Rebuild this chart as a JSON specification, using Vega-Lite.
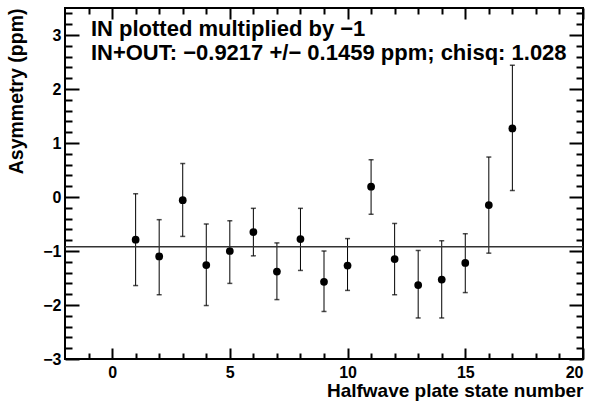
{
  "$schema": "https://vega.github.io/schema/vega-lite/v6.json",
  "width": 518,
  "height": 351,
  "autosize": "none",
  "padding": {"left": 65, "top": 8, "right": 8, "bottom": 45},
  "background": "white",
  "config": {
    "view": {"stroke": "black", "strokeWidth": 2},
    "font": "Liberation Sans"
  },
  "datasets": {
    "pts": [
      {"state": 1, "asym": -0.79, "hi": 0.06, "lo": -1.64},
      {"state": 2, "asym": -1.10, "hi": -0.42, "lo": -1.81},
      {"state": 3, "asym": -0.06, "hi": 0.62, "lo": -0.73},
      {"state": 4, "asym": -1.26, "hi": -0.50, "lo": -2.01},
      {"state": 5, "asym": -1.00, "hi": -0.44, "lo": -1.60},
      {"state": 6, "asym": -0.65, "hi": -0.21, "lo": -1.09},
      {"state": 7, "asym": -1.38, "hi": -0.85, "lo": -1.90},
      {"state": 8, "asym": -0.78, "hi": -0.21, "lo": -1.36},
      {"state": 9, "asym": -1.57, "hi": -1.00, "lo": -2.12},
      {"state": 10, "asym": -1.27, "hi": -0.77, "lo": -1.73},
      {"state": 11, "asym": 0.19, "hi": 0.69, "lo": -0.32},
      {"state": 12, "asym": -1.15, "hi": -0.49, "lo": -1.81},
      {"state": 13, "asym": -1.63, "hi": -0.99, "lo": -2.24},
      {"state": 14, "asym": -1.53, "hi": -0.81, "lo": -2.24},
      {"state": 15, "asym": -1.22, "hi": -0.68, "lo": -1.77},
      {"state": 16, "asym": -0.15, "hi": 0.74, "lo": -1.04},
      {"state": 17, "asym": 1.27, "hi": 2.44, "lo": 0.12}
    ],
    "notes": [
      {"tx": -0.9, "ty": 2.98, "label": "IN plotted multiplied by −1"},
      {"tx": -0.9, "ty": 2.535, "label": "IN+OUT: −0.9217 +/− 0.1459 ppm; chisq: 1.028"}
    ],
    "fit": [{"mean": -0.9217}]
  },
  "resolve": {"axis": {"x": "independent", "y": "independent"}},
  "layer": [
    {
      "data": {"name": "pts"},
      "mark": {"type": "rule", "color": "black", "strokeWidth": 1},
      "encoding": {
        "x": {
          "field": "state", "type": "quantitative",
          "scale": {"domain": [-2, 20], "nice": false, "zero": false},
          "axis": {
            "orient": "bottom",
            "values": [-1, 0, 1, 2, 3, 4, 5, 6, 7, 8, 9, 10, 11, 12, 13, 14, 15, 16, 17, 18, 19, 20],
            "domain": false, "grid": false,
            "tickColor": "black", "tickWidth": 2,
            "tickSize": {"condition": {"test": "datum.value % 5 === 0", "value": -11}, "value": -6},
            "labelExpr": "datum.value % 5 === 0 ? datum.label : ''",
            "labelFont": "Liberation Sans", "labelFontWeight": "bold", "labelFontSize": 16,
            "labelColor": "black", "labelPadding": 16,
            "title": "Halfwave plate state number",
            "titleFont": "Liberation Sans", "titleFontWeight": "bold", "titleFontSize": 19,
            "titleColor": "black", "titleAnchor": "end", "titlePadding": 1
          }
        },
        "y": {
          "field": "lo", "type": "quantitative",
          "scale": {"domain": [-3, 3.5], "nice": false, "zero": false},
          "axis": {
            "orient": "left",
            "values": [-3, -2.8, -2.6, -2.4, -2.2, -2, -1.8, -1.6, -1.4, -1.2, -1, -0.8, -0.6, -0.4, -0.2, 0, 0.2, 0.4, 0.6, 0.8, 1, 1.2, 1.4, 1.6, 1.8, 2, 2.2, 2.4, 2.6, 2.8, 3, 3.2, 3.4],
            "domain": false, "grid": false,
            "tickColor": "black", "tickWidth": 2,
            "tickSize": {"condition": {"test": "abs(datum.value - round(datum.value)) < 0.01", "value": -14}, "value": -7},
            "labelExpr": "abs(datum.value - round(datum.value)) < 0.01 ? replace(format(datum.value, 'd'), '-', '−') : ''",
            "labelFont": "Liberation Sans", "labelFontWeight": "bold", "labelFontSize": 16,
            "labelColor": "black", "labelPadding": 18,
            "title": "Asymmetry (ppm)",
            "titleFont": "Liberation Sans", "titleFontWeight": "bold", "titleFontSize": 19.5,
            "titleColor": "black", "titleAnchor": "end", "titlePadding": 16
          }
        },
        "y2": {"field": "hi"}
      }
    },
    {
      "data": {"name": "pts"},
      "mark": {"type": "tick", "color": "black", "orient": "horizontal", "size": 5, "thickness": 1.5},
      "encoding": {
        "x": {"field": "state", "type": "quantitative", "axis": null},
        "y": {"field": "lo", "type": "quantitative", "axis": null}
      }
    },
    {
      "data": {"name": "pts"},
      "mark": {"type": "tick", "color": "black", "orient": "horizontal", "size": 5, "thickness": 1.5},
      "encoding": {
        "x": {"field": "state", "type": "quantitative", "axis": null},
        "y": {"field": "hi", "type": "quantitative", "axis": null}
      }
    },
    {
      "data": {"name": "pts"},
      "mark": {"type": "point", "filled": true, "color": "black", "opacity": 1, "size": 60},
      "encoding": {
        "x": {"field": "state", "type": "quantitative", "axis": null},
        "y": {"field": "asym", "type": "quantitative", "axis": null}
      }
    },
    {
      "data": {"name": "fit"},
      "mark": {"type": "rule", "color": "#333333", "strokeWidth": 1.5},
      "encoding": {
        "y": {
          "field": "mean", "type": "quantitative",
          "axis": {
            "orient": "right",
            "values": [-3, -2.8, -2.6, -2.4, -2.2, -2, -1.8, -1.6, -1.4, -1.2, -1, -0.8, -0.6, -0.4, -0.2, 0, 0.2, 0.4, 0.6, 0.8, 1, 1.2, 1.4, 1.6, 1.8, 2, 2.2, 2.4, 2.6, 2.8, 3, 3.2, 3.4],
            "domain": false, "grid": false, "labels": false, "title": null,
            "tickColor": "black", "tickWidth": 2,
            "tickSize": {"condition": {"test": "abs(datum.value - round(datum.value)) < 0.01", "value": -14}, "value": -7}
          }
        }
      }
    },
    {
      "data": {"name": "notes"},
      "mark": {"type": "text", "align": "left", "baseline": "alphabetic", "font": "Liberation Sans", "fontWeight": "bold", "fontSize": 22, "color": "black"},
      "encoding": {
        "x": {
          "field": "tx", "type": "quantitative",
          "axis": {
            "orient": "top",
            "values": [-1, 0, 1, 2, 3, 4, 5, 6, 7, 8, 9, 10, 11, 12, 13, 14, 15, 16, 17, 18, 19, 20],
            "domain": false, "grid": false, "labels": false, "title": null,
            "tickColor": "black", "tickWidth": 2,
            "tickSize": {"condition": {"test": "datum.value % 5 === 0", "value": -11}, "value": -6}
          }
        },
        "y": {"field": "ty", "type": "quantitative", "axis": null},
        "text": {"field": "label"}
      }
    }
  ]
}
